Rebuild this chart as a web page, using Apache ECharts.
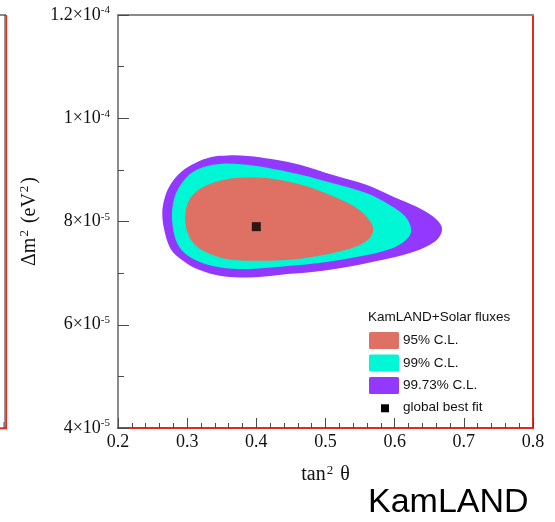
<!DOCTYPE html>
<html><head><meta charset="utf-8">
<script src="https://cdn.jsdelivr.net/npm/echarts@6/dist/echarts.min.js"></script>
<style>html,body{margin:0;padding:0;background:#fff}#c{width:555px;height:522px}</style>
</head><body><div id="c"></div><script>
// x: tan^2(theta); y: Δm^2 in units of 1e-5 eV^2
const contour9973 = [[0.264,8.16],[0.268,8.48],[0.277,8.74],[0.292,8.97],[0.311,9.13],[0.335,9.25],[0.359,9.28],[0.388,9.27],[0.422,9.21],[0.463,9.10],[0.511,8.90],[0.559,8.71],[0.598,8.48],[0.631,8.29],[0.655,8.10],[0.668,7.90],[0.665,7.71],[0.651,7.55],[0.622,7.39],[0.583,7.26],[0.535,7.13],[0.487,7.03],[0.436,6.97],[0.398,6.92],[0.369,6.92],[0.340,6.97],[0.311,7.10],[0.292,7.26],[0.277,7.45],[0.268,7.77]];
const contour99 = [[0.278,8.13],[0.282,8.48],[0.292,8.74],[0.306,8.94],[0.325,9.06],[0.350,9.12],[0.378,9.11],[0.412,9.05],[0.463,8.91],[0.511,8.74],[0.559,8.55],[0.593,8.32],[0.615,8.10],[0.624,7.84],[0.619,7.68],[0.603,7.52],[0.574,7.39],[0.535,7.29],[0.487,7.19],[0.412,7.10],[0.374,7.08],[0.340,7.13],[0.311,7.26],[0.292,7.45],[0.282,7.71]];
const contour95 = [[0.297,8.06],[0.301,8.36],[0.311,8.55],[0.330,8.71],[0.354,8.81],[0.383,8.85],[0.422,8.83],[0.463,8.72],[0.492,8.59],[0.521,8.43],[0.545,8.26],[0.561,8.07],[0.569,7.87],[0.564,7.68],[0.545,7.52],[0.511,7.39],[0.463,7.28],[0.436,7.25],[0.398,7.24],[0.359,7.27],[0.330,7.39],[0.311,7.55],[0.301,7.77]];
const bestFit = [[0.400, 7.90]];
const yTickValues = [4, 6, 8, 10, 12];
const yTickMantissa = ['4', '6', '8', '1', '1.2'];
const yTickExponent = ['-5', '-5', '-5', '-4', '-4'];
const legendLabels = ['95% C.L.', '99% C.L.', '99.73% C.L.', 'global best fit'];
const legendTitle = 'KamLAND+Solar fluxes';
const colors = ['#DE7064', '#00F7D6', '#9338FE'];

const serif = 'Liberation Serif, Times New Roman, serif';
const sans = 'Liberation Sans, Arial, sans-serif';
const RED = '#E8281C', GRAY = '#8a8a8a', TICK = '#4a4a4a';

function contourSeries(name, pts, color) {
  return {
    type: 'custom', name: name, data: [0], silent: true,
    renderItem: function (params, api) {
      return {
        type: 'polygon',
        shape: { points: pts.map(p => api.coord(p)), smooth: 0.35 },
        style: { fill: color }
      };
    }
  };
}

const chart = echarts.init(document.getElementById('c'), null, { renderer: 'canvas' });
const legX = 369, legY0 = 332, legStep = 22.5;
const graphics = [
  { type: 'line', shape: { x1: 0, y1: 15, x2: 6, y2: 15 }, style: { stroke: GRAY, lineWidth: 2 } },
  { type: 'line', shape: { x1: 5, y1: 15, x2: 5, y2: 428 }, style: { stroke: '#333', lineWidth: 1 } },
  { type: 'line', shape: { x1: 6.3, y1: 15, x2: 6.3, y2: 429 }, style: { stroke: RED, lineWidth: 1.5 } },
  { type: 'line', shape: { x1: 0, y1: 428.3, x2: 7, y2: 428.3 }, style: { stroke: RED, lineWidth: 2 } },
  { type: 'line', shape: { x1: 4, y1: 422, x2: 4, y2: 428 }, style: { stroke: '#555', lineWidth: 1 } },
  { type: 'text', left: 368, top: 310, style: { text: legendTitle, font: '13.5px ' + sans, fill: '#111' } },
];
for (let i = 0; i < 3; i++) {
  graphics.push({ type: 'rect', shape: { x: legX, y: legY0 + i * legStep, width: 30, height: 17, r: 1.5 }, style: { fill: colors[i] } });
  graphics.push({ type: 'text', left: 403, top: legY0 + i * legStep + 1.5, style: { text: legendLabels[i], font: '13.5px ' + sans, fill: '#111' } });
}
graphics.push({ type: 'rect', shape: { x: 381, y: 404.3, width: 8, height: 8 }, style: { fill: '#000' } });
graphics.push({ type: 'text', left: 403, top: 400.5, style: { text: legendLabels[3], font: '13.5px ' + sans, fill: '#111' } });
graphics.push({ type: 'text', left: 368, top: 486, style: { text: 'KamLAND', font: '34px ' + sans, fill: '#000' } });

const nameRich = {
  a: { fontFamily: serif, fontSize: 20, color: '#111', lineHeight: 22 },
  s: { fontFamily: serif, fontSize: 13, color: '#111', lineHeight: 14, verticalAlign: 'top', padding: [0, 2, 0, 1] }
};

chart.setOption({
  animation: false,
  backgroundColor: '#fff',
  grid: { left: 118, right: 22, top: 15, bottom: 94, containLabel: false },
  xAxis: [{
    type: 'value', min: 0.2, max: 0.8, position: 'bottom',
    axisLine: { show: true, onZero: false, lineStyle: { color: RED, width: 2 } },
    axisTick: { show: false }, axisLabel: { show: false }, splitLine: { show: false }
  }, {
    type: 'value', min: 0.2, max: 0.8, position: 'top',
    axisLine: { show: true, onZero: false, lineStyle: { color: GRAY, width: 2 } },
    axisTick: { show: false }, axisLabel: { show: false }, splitLine: { show: false }
  }, {
    type: 'value', min: 0.2, max: 0.8, interval: 0.1, position: 'bottom',
    axisLine: { show: false, onZero: false, lineStyle: { color: TICK } },
    axisTick: { show: true, inside: true, length: 10, lineStyle: { color: TICK, width: 1 } },
    minorTick: { show: true, splitNumber: 5, length: 5, lineStyle: { color: TICK, width: 1 } },
    splitLine: { show: false },
    axisLabel: { margin: 5, fontFamily: serif, fontSize: 18, color: '#111', formatter: v => v.toFixed(1) },
    name: '{a|tan}{s|2}{a| θ}', nameLocation: 'middle', nameGap: 36,
    nameTextStyle: { rich: nameRich }
  }],
  yAxis: [{
    type: 'value', min: 4, max: 12, interval: 2, position: 'left',
    axisLine: { show: true, onZero: false, lineStyle: { color: GRAY, width: 2 } },
    axisTick: { show: true, inside: true, length: 11, lineStyle: { color: TICK, width: 1 } },
    minorTick: { show: true, splitNumber: 2, length: 6, lineStyle: { color: TICK, width: 1 } },
    splitLine: { show: false },
    axisLabel: {
      margin: 8,
      formatter: function (v) {
        const i = yTickValues.indexOf(v);
        return '{b|' + yTickMantissa[i] + '×10}{s|' + yTickExponent[i] + '}';
      },
      rich: {
        b: { fontFamily: serif, fontSize: 18, color: '#111', lineHeight: 20 },
        s: { fontFamily: serif, fontSize: 11, color: '#111', lineHeight: 12, verticalAlign: 'top' }
      }
    },
    name: '{a|Δm}{s|2}{a| (eV}{s|2}{a|)}', nameLocation: 'middle', nameGap: 70, nameRotate: 90,
    nameTextStyle: { rich: nameRich }
  }, {
    type: 'value', min: 4, max: 12, position: 'right',
    axisLine: { show: true, onZero: false, lineStyle: { color: RED, width: 2 } },
    axisTick: { show: false }, axisLabel: { show: false }, splitLine: { show: false }
  }],
  series: [
    contourSeries('99.73% C.L.', contour9973, colors[2]),
    contourSeries('99% C.L.', contour99, colors[1]),
    contourSeries('95% C.L.', contour95, colors[0]),
    { type: 'scatter', name: 'global best fit', data: bestFit, symbol: 'rect', symbolSize: 9,
      itemStyle: { color: '#000' }, silent: true }
  ],
  graphic: graphics
});
</script></body></html>
